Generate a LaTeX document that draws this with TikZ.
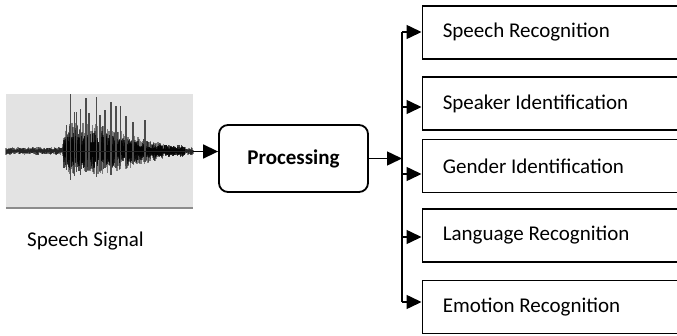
\documentclass[tikz,border=0pt]{standalone}
\usepackage{fontspec}
\setmainfont{Carlito}
\usetikzlibrary{arrows.meta}

\begin{document}
\begin{tikzpicture}[x=1pt,y=-1pt,
  every node/.style={font=\fontsize{21}{25}\selectfont},
  arr/.style={-{Triangle[length=15pt,width=14pt]}, line width=1.5pt},
  outbox/.style={draw, line width=1.6pt, anchor=west, minimum height=53pt,
    text width=240pt, inner xsep=20.5pt, align=flush left},
  procbox/.style={draw, line width=1.8pt, rounded corners=9pt,
    minimum width=149pt, minimum height=67pt, font=\fontsize{21}{25}\selectfont\bfseries},
  wave/.style={black, line width=1.2pt, opacity=0.45},
  spike/.style={black!70, line width=1.2pt},
]
\useasboundingbox (0,0) rectangle (677,335);
\clip (0,0) rectangle (677,335);

% speech signal panel
\node[minimum width=187pt, minimum height=115pt, inner sep=0pt] (sig) at (99.5,151.5) {};
\fill[black!11] (sig.north west) rectangle (sig.south east);
\draw[black!45, line width=1.5pt] ([yshift=1pt]sig.south west) -- ([yshift=1pt]sig.south east);

% waveform body: random strokes under an amplitude envelope
\pgfmathsetseed{11}
\foreach \x in {6,6.5,...,193} {
  \pgfmathsetmacro{\u}{(\x<62) ? 4 : ((\x<66) ? 4+26*(\x-62)/4 : ((\x<105) ? 30-4*(\x-66)/39 : ((\x<145) ? 26-14*(\x-105)/40 : ((\x<175) ? 12-7*(\x-145)/30 : 4))))}
  \pgfmathsetmacro{\d}{(\x<62) ? 4 : ((\x<68) ? 4+22*(\x-62)/6 : ((\x<110) ? 26-4*(\x-68)/42 : ((\x<145) ? 22-9*(\x-110)/35 : ((\x<175) ? 13-8*(\x-145)/30 : 4))))}
  \pgfmathsetmacro{\ra}{rnd}
  \pgfmathsetmacro{\rb}{rnd}
  \draw[wave] (\x,{151-\u*(0.25+0.75*\ra)}) -- (\x,{151+\d*(0.25+0.75*\rb)});
}
\pgfmathsetseed{5}
\foreach \x in {64,64.6,...,185} {
  \pgfmathsetmacro{\u}{(\x<105) ? 18 : ((\x<145) ? 18-9*(\x-105)/40 : 6)}
  \pgfmathsetmacro{\ra}{rnd}
  \pgfmathsetmacro{\rb}{rnd}
  \draw[wave, opacity=0.7] (\x,{151-\u*(0.3+0.7*\ra)}) -- (\x,{151+\u*(0.3+0.7*\rb)});
}
% tall peaks
\foreach \x/\t/\b in {66.7/125/170, 70.7/94/180, 74.7/112/176, 76.7/112/172, 80.7/109/175,
  86/98/172, 89/113/170, 96.7/97/177, 100/115/171, 105/110/168, 111/102/175,
  116/106/168, 120.7/106/166, 126/116/166, 133/122/164, 145/120/162}
  \draw[spike] (\x,\t) -- (\x,\b);
\draw[black!85, line width=1.4pt] (sig.west) -- (sig.east);

\node[anchor=west, inner sep=0pt] (siglabel) at (27,241) {Speech Signal};

% processing stage
\node[procbox] (proc) at (293.5,158.5) {Processing};
\draw[arr] (sig.east) -- (sig.east -| proc.west);

% output tasks
\node[outbox] (b1) at (421.5,32.5) {Speech Recognition};
\node[outbox] (b2) at (421.5,103.5) {Speaker Identification};
\node[outbox] (b3) at (421.5,166) {Gender Identification};
\node[outbox] (b4) at (421.5,235.5) {Language Recognition};
\node[outbox] (b5) at (421.5,307) {Emotion Recognition};

% distribution bus
\coordinate (a1) at (402,32);
\coordinate (a2) at (402,107);
\coordinate (a3) at (402,174);
\coordinate (a4) at (402,237);
\coordinate (a5) at (402,302);
\draw[line width=2.6pt] (a1) -- (a5);
\draw[arr] (proc.east) -- (proc.east -| a1);
\foreach \i in {1,...,5}
  \draw[arr] (a\i) -- (a\i -| b\i.west);
\end{tikzpicture}
\end{document}
